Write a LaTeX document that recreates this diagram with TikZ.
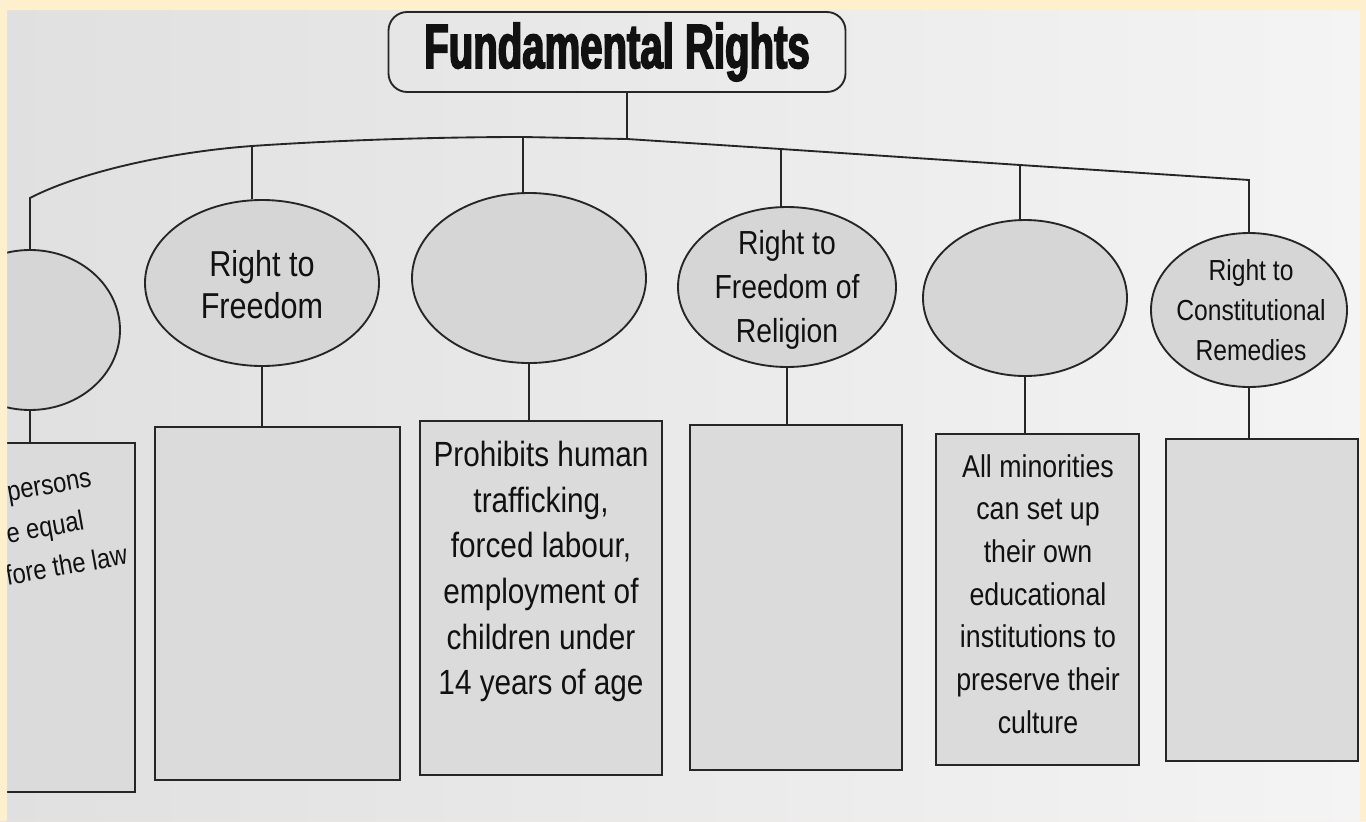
\documentclass[tikz,border=0pt]{standalone}
\usepackage{fontspec}
\setmainfont{Liberation Sans}
\newfontfamily\narrowsans[FakeStretch=0.85]{Liberation Sans}
\newfontfamily\headsans[FakeStretch=0.64,FakeBold=2.5]{Liberation Sans}
\usetikzlibrary{shapes.geometric}

\definecolor{pageleft}{HTML}{E0E0E0}
\definecolor{pageright}{HTML}{F4F4F4}
\definecolor{ink}{HTML}{262626}
\definecolor{print}{HTML}{111111}
\definecolor{ovalfill}{HTML}{D6D6D6}
\definecolor{boxfill}{HTML}{DBDBDB}
\definecolor{edgeyellow}{HTML}{FEF0CC}

\begin{document}
\begin{tikzpicture}[x=0.75pt,y=0.75pt,yscale=-1,
	link/.style={draw=ink,line width=1.4pt},
	oval/.style={ellipse,draw=ink,fill=ovalfill,line width=1.4pt,inner sep=0pt},
	answerbox/.style={rectangle,draw=ink,fill=boxfill,line width=1.4pt,inner sep=0pt},
	ovaltext/.style={align=center,inner sep=0pt,text=print},
	boxtext/.style={align=center,inner sep=0pt,anchor=north,text=print}]
	
	\useasboundingbox (0,0) rectangle (1366,821);
	\shade[left color=pageleft,right color=pageright] (0,0) rectangle (1366,821);
	
	% heading
	\node[draw=ink,line width=1.4pt,rounded corners=14pt,minimum width=342.75pt,minimum height=60pt,inner sep=0pt,text=print] (title) at (617,52) {\headsans\bfseries\fontsize{47}{47}\selectfont Fundamental Rights};
	
	% points on the branch line
	\coordinate (b1) at (30,198);
	\coordinate (b2) at (252,146);
	\coordinate (b3) at (523,137);
	\coordinate (hub) at (627,139);
	\coordinate (b4) at (781,149);
	\coordinate (b5) at (1020,165);
	\coordinate (b6) at (1249,180);
	
	% the six rights
	\node[oval,minimum width=135pt,minimum height=120pt] (e1) at (30,330) {};
	\node[oval,minimum width=175.5pt,minimum height=124.5pt] (e2) at (262,283) {};
	\node[oval,minimum width=175.5pt,minimum height=127.5pt] (e3) at (529,278) {};
	\node[oval,minimum width=163.5pt,minimum height=120pt] (e4) at (787,287) {};
	\node[oval,minimum width=153pt,minimum height=117pt] (e5) at (1025,298) {};
	\node[oval,minimum width=147pt,minimum height=115.5pt] (e6) at (1249,310) {};
	
	\node[ovaltext,font=\narrowsans\fontsize{27}{31.5}\selectfont] (t2) at (262,285) {Right to\\Freedom};
	\node[ovaltext,font=\narrowsans\fontsize{25}{33}\selectfont] (t4) at (787,290) {Right to\\Freedom of\\Religion};
	\node[ovaltext,font=\narrowsans\fontsize{21.75}{30}\selectfont] (t6) at (1251,310) {Right to\\Constitutional\\Remedies};
	
	% boxes below
	\node[answerbox,minimum width=116.25pt,minimum height=261.75pt] (r1) at (57.5,617.5) {};
	\node[answerbox,minimum width=183.75pt,minimum height=264.75pt] (r2) at (277.5,603.5) {};
	\node[answerbox,minimum width=181.5pt,minimum height=265.5pt] (r3) at (541,598) {};
	\node[answerbox,minimum width=159pt,minimum height=258.75pt] (r4) at (796,597.5) {};
	\node[answerbox,minimum width=152.25pt,minimum height=248.25pt] (r5) at (1037.5,599.5) {};
	\node[answerbox,minimum width=144pt,minimum height=241.5pt] (r6) at (1262,600) {};
	
	\node[align=left,inner sep=0pt,text=print,anchor=north west,rotate=10,font=\narrowsans\fontsize{21}{31}\selectfont] (x1) at (6,486) {persons\\\hspace*{-6pt}e equal\\\hspace*{-12pt}fore the law};
	\node[boxtext,font=\narrowsans\fontsize{26.25}{34.2}\selectfont] (x3) at (541,441) {Prohibits human\\trafficking,\\forced labour,\\employment of\\children under\\14 years of age};
	\node[boxtext,font=\narrowsans\fontsize{23.6}{32}\selectfont] (x5) at (1038,454) {All minorities\\can set up\\their own\\educational\\institutions to\\preserve their\\culture};
	
	% connectors
	\draw[link] (title.south -| hub) -- (hub);
	\draw[link] (e1.north) -- (b1) .. controls (80,172) and (170,152) .. (b2) .. controls (340,140) and (440,137) .. (b3) -- (hub) -- (b4) -- (b5) -- (b6) -- (e6.north);
	\foreach \i in {2,3,4,5}
		\draw[link] (b\i) -- (b\i |- e\i.north);
	\foreach \i in {1,...,6}
		\draw[link] (e\i.south) -- (e\i.south |- r\i.north);
	
	% yellow edge round the page
	\fill[edgeyellow,even odd rule] (0,0) rectangle (1366,821) (7,10) rectangle (1360,821);
	
\end{tikzpicture}
\end{document}
